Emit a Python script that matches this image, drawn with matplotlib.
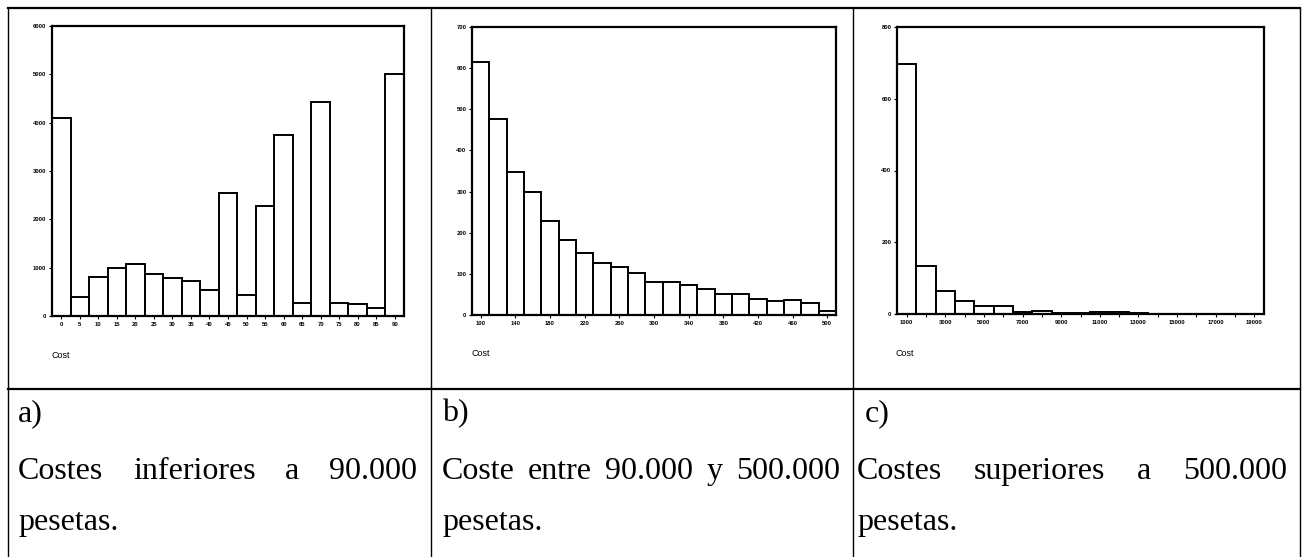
import numpy as np
import matplotlib
matplotlib.use("Agg")
from matplotlib import pyplot as plt
from matplotlib.lines import Line2D

# bar heights
a_bins = [0, 5, 10, 15, 20, 25, 30, 35, 40, 45, 50, 55, 60, 65, 70, 75, 80, 85, 90]
a_counts = [4090, 390, 810, 1000, 1085, 865, 790, 725, 540, 2545, 435, 2275, 3750,
            275, 4430, 275, 240, 170, 5015]

b_bins = list(range(100, 501, 20))
b_counts = [616, 477, 347, 300, 228, 182, 150, 126, 117, 103, 80, 80, 72, 62, 52,
            50, 38, 34, 37, 30, 10]

c_bins = list(range(1000, 19001, 1000))
c_counts = [697, 135, 64, 36, 22, 22, 6, 8, 3, 2, 5, 5, 2, 1, 0, 0, 0, 0, 0]

a_ticks = a_bins
b_ticks = list(range(100, 501, 40))
c_ticks = list(range(1000, 19001, 2000))

captions = [("a)", "Costes inferiores a 90.000", "pesetas."),
            ("b)", "Coste entre 90.000 y 500.000", "pesetas."),
            ("c)", "Costes superiores a 500.000", "pesetas.")]

W, H = 1304, 557
fig = plt.figure(figsize=(W / 100, H / 100), dpi=100)
fig.patch.set_facecolor("white")


def px_axes(l, r, t, b):
    return fig.add_axes([l / W, 1 - b / H, (r - l) / W, (b - t) / H])


def fx(x):
    return x / W


def fy(y):
    return 1 - y / H


panels = [
    (px_axes(52, 404, 26, 316), a_bins, a_counts, 5, (-2.5, 92.5), a_ticks, 6000, 1000, None),
    (px_axes(472, 836, 27, 315), b_bins, b_counts, 20, (90, 510), b_ticks, 700, 100, None),
    (px_axes(897, 1264, 27, 314), c_bins, c_counts, 1000, (500, 19500), c_ticks, 800, 200, c_bins),
]

for ax, bins, counts, w, xlim, xt, ymax, ystep, minor in panels:
    ax.bar(bins, counts, width=w, color="white", edgecolor="black", linewidth=1.4)
    ax.set_xlim(*xlim)
    ax.set_ylim(0, ymax)
    ax.set_xticks(xt)
    ax.set_xticklabels([str(v) for v in xt])
    if minor is not None:
        ax.set_xticks(minor, minor=True)
    ax.set_yticks(np.arange(0, ymax + 1, ystep))
    for sp in ax.spines.values():
        sp.set_linewidth(1.6)
    ax.tick_params(axis="both", which="both", direction="out", length=2, width=0.8,
                   pad=2, labelsize=4.2, colors="black")
    for lab in ax.get_xticklabels() + ax.get_yticklabels():
        lab.set_fontweight("bold")
        lab.set_family("Liberation Sans")

# "Cost" labels below each chart
for x, y in [(52, 356), (472, 354), (895, 353)]:
    fig.text(fx(x), fy(y), "Cost", fontsize=6.5, family="Liberation Sans",
             ha="left", va="center")

# table lines
def hline(y, x0, x1, lw=1.6):
    fig.add_artist(Line2D([fx(x0), fx(x1)], [fy(y), fy(y)], color="black", lw=lw))


def vline(x, y0, y1, lw=1.0):
    fig.add_artist(Line2D([fx(x), fx(x)], [fy(y0), fy(y1)], color="black", lw=lw))


hline(8, 8, 1300)
hline(389, 8, 1300)
for x in [8, 431, 853, 1300]:
    vline(x, 8, H)

# captions, second line justified across the cell
renderer = fig.canvas.get_renderer()
cells = [(18, 417, 18), (442, 840, 442), (857, 1287, 865)]
serif = dict(fontsize=23, family="Liberation Serif", va="baseline", ha="left")

for (lab, line2, line3), (x0, x1, xlab) in zip(captions, cells):
    fig.text(fx(xlab), fy(421), lab, **serif)
    fig.text(fx(x0), fy(530), line3, **serif)
    words = line2.split()
    texts = [fig.text(0, fy(479), wd, **serif) for wd in words]
    widths = [t.get_window_extent(renderer).width for t in texts]
    gap = (x1 - x0 - sum(widths)) / (len(words) - 1)
    pos = x0
    for t, wdt in zip(texts, widths):
        t.set_x(fx(pos))
        pos += wdt + gap

fig.savefig("out.png", dpi=100, facecolor="white")
